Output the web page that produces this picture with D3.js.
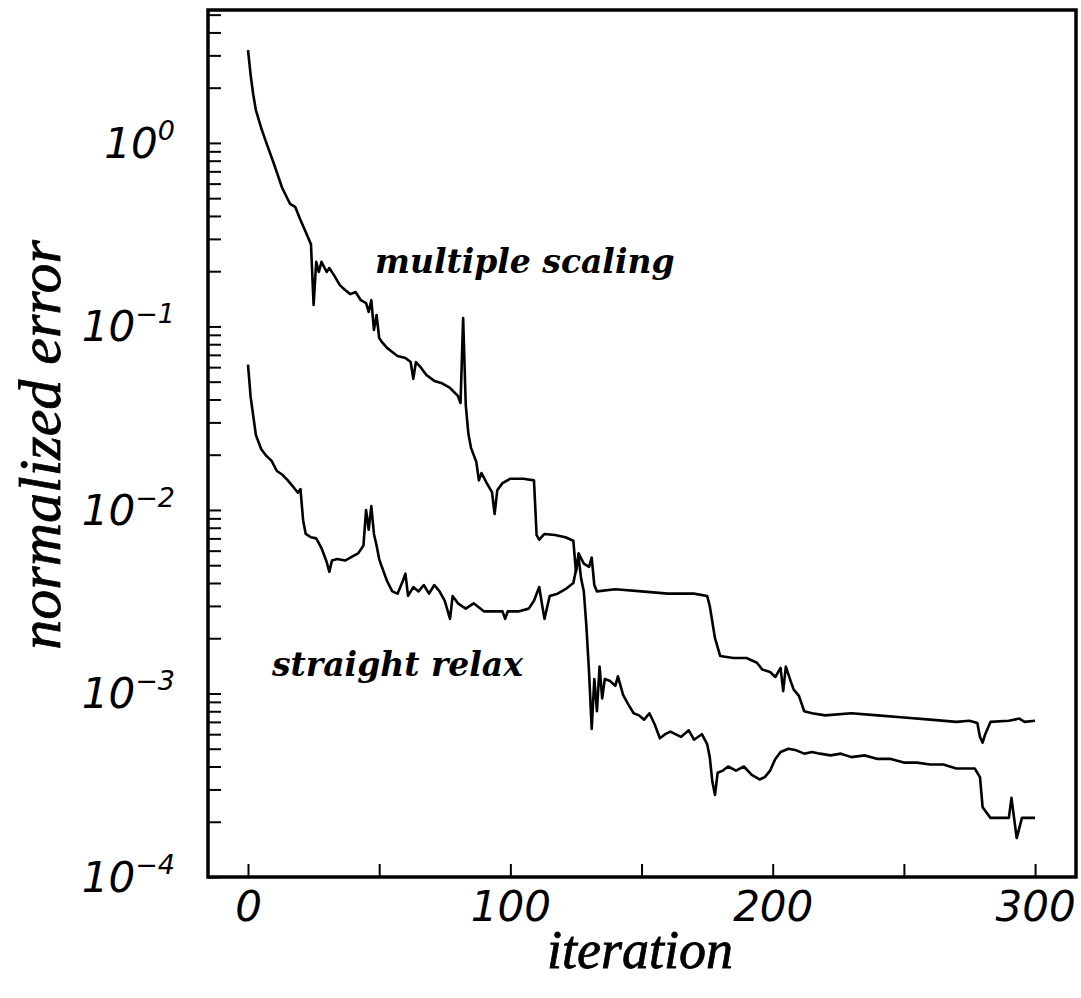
<!DOCTYPE html>
<html>
<head>
<meta charset="utf-8">
<script src="https://cdn.jsdelivr.net/npm/d3@7"></script>
<style>
  body { margin: 0; background: #fff; }
  .axis line { stroke: #000; stroke-width: 2; }
  .axis path { display: none; }
  .title { font-family: 'Liberation Serif'; font-style: italic; stroke: #000; stroke-width: 0.8; }
</style>
</head>
<body>
<div class="chart"></div>
<script>
// data
var msIter = [0,1,2,3,5,7,10,13,16,18,20,22,24,25,26,27,28,30,31,33,35,37,39,41,43,45,46,47,48,49,50,51,53,55,57,60,62,63,64,66,68,71,74,77,80,81,82,83,84,85,87,88,89,91,93,94,95,97,100,105,109,110,111,113,117,121,124,125,126,128,130,131,132,133,140,150,160,170,175,176,178,180,185,190,194,196,199,201,203,204,205,207,208,210,212,215,220,230,240,250,260,270,275,278,279,280,281,283,290,294,296,300];
var msErr  = [3.2,2.35,1.83,1.51,1.21,1.0,0.76,0.57,0.466,0.448,0.38,0.327,0.28,0.131,0.225,0.198,0.225,0.198,0.208,0.188,0.168,0.158,0.150,0.154,0.139,0.134,0.120,0.139,0.0957,0.1155,0.0865,0.0824,0.0764,0.0726,0.069,0.0673,0.064,0.0518,0.064,0.0594,0.0544,0.0505,0.049,0.0462,0.0418,0.0383,0.111,0.0373,0.026,0.0218,0.0183,0.0145,0.0159,0.014,0.0125,0.0095,0.0128,0.014,0.0148,0.0148,0.0145,0.0073,0.0069,0.0074,0.0073,0.0071,0.0068,0.0046,0.0058,0.0051,0.0049,0.0055,0.0039,0.0036,0.0037,0.0036,0.0035,0.0035,0.0034,0.0030,0.0020,0.0016,0.00156,0.00156,0.00147,0.00135,0.00131,0.00123,0.00138,0.00103,0.0014,0.00115,0.00105,0.00097,0.0008,0.00078,0.00076,0.00078,0.00076,0.00074,0.00072,0.0007,0.00071,0.00069,0.00058,0.00054,0.0006,0.0007,0.00071,0.00073,0.0007,0.00071];

var srIter = [0,1,2,3,5,7,9,11,13,15,17,19,20,21,22,24,26,28,30,31,32,34,37,40,42,44,45,46,47,48,49,50,51,53,55,57,59,60,61,63,65,67,69,71,73,75,77,78,80,83,86,90,94,97,98,99,103,107,109,111,112,113,115,118,121,124,126,127,128,129,130,131,132,133,134,135,136,138,140,141,143,145,147,149,151,153,155,157,159,161,165,168,170,173,175,176,177,178,179,181,183,186,189,192,195,197,199,201,203,206,209,212,215,218,222,226,230,235,240,245,250,255,260,265,270,274,277,279,280,283,290,291,293,295,300];
var srErr  = [0.062,0.0413,0.0325,0.0256,0.0215,0.0197,0.0185,0.0163,0.0156,0.0146,0.0135,0.0124,0.013,0.0088,0.0074,0.0071,0.0070,0.0062,0.0052,0.0046,0.0053,0.0054,0.0053,0.0056,0.0058,0.0064,0.0100,0.0078,0.0105,0.0074,0.0064,0.0054,0.0049,0.0041,0.0036,0.0035,0.0041,0.0045,0.0034,0.0038,0.0036,0.0039,0.0035,0.0039,0.0036,0.0032,0.00255,0.0034,0.0031,0.0029,0.0031,0.0028,0.0028,0.0028,0.00255,0.0028,0.0028,0.0029,0.0032,0.0038,0.0031,0.00255,0.0034,0.0035,0.0037,0.0040,0.0055,0.0042,0.0036,0.0023,0.0013,0.00064,0.0012,0.0008,0.0014,0.00094,0.0012,0.00117,0.0011,0.00124,0.00098,0.00087,0.00078,0.00076,0.00072,0.00078,0.00068,0.00057,0.0006,0.00062,0.00058,0.00063,0.00056,0.0006,0.00053,0.00045,0.00033,0.00028,0.00037,0.00038,0.0004,0.00038,0.0004,0.00036,0.00034,0.00035,0.00038,0.00044,0.00048,0.0005,0.00049,0.00047,0.00048,0.00047,0.00046,0.00047,0.00045,0.00046,0.00044,0.00044,0.00042,0.00042,0.00041,0.00041,0.00039,0.00039,0.00039,0.00035,0.00024,0.00021,0.00021,0.00027,0.000163,0.00021,0.00021];

var xTicks      = [0,50,100,150,200,250,300];
var xTickLabels = ['0','','100','','200','','300'];
var yDecades    = [-4,-3,-2,-1,0];
var yLabels     = ['10', '10', '10', '10', '10'];
var yExps       = ['\u22124','\u22123','\u22122','\u22121','0'];
var notes       = ['multiple scaling','straight relax'];

// layout (plot frame in page pixels)
var W = 1081, H = 998,
    fLeft = 208, fRight = 1076, fTop = 10, fBottom = 877;

var x = d3.scaleLinear().domain([-15.25, 315.6]).range([fLeft, fRight]);
var y = d3.scaleLog().domain([1e-4, 5.3]).range([fBottom, fTop]);

var svg = d3.select('.chart')
    .append('svg')
    .attr('width', W)
    .attr('height', H);

// minor + major ticks on the log axis
var yTickVals = [];
yDecades.forEach(function(p){
    for (var m = 1; m <= 9; m++) {
        var v = m * Math.pow(10, p);
        if (v <= 5.3) yTickVals.push(v);
    }
});

svg.append('g')
    .attr('class', 'y axis')
    .attr('transform', 'translate(' + fLeft + ',0)')
    .call(d3.axisLeft(y).tickValues(yTickVals).tickSizeInner(-13).tickSizeOuter(0).tickFormat(''));

var xAxis = svg.append('g')
    .attr('class', 'x axis')
    .attr('transform', 'translate(0,' + fBottom + ')')
    .call(d3.axisBottom(x).tickValues(xTicks).tickSizeInner(-13).tickSizeOuter(0)
        .tickFormat(function(d, i){ return xTickLabels[i]; }));

xAxis.selectAll('text')
    .attr('y', 44)
    .attr('dy', 0)
    .style('font-family', 'DejaVu Sans')
    .style('font-style', 'italic')
    .style('font-size', '42px')
    .attr('fill', '#000');

// y labels 10^k
yDecades.forEach(function(p, i){
    var t = svg.append('text')
        .attr('x', 175)
        .attr('y', y(Math.pow(10, p)) + 15)
        .attr('text-anchor', 'end')
        .style('font-family', 'DejaVu Sans')
        .style('font-style', 'italic')
        .style('font-size', '42px');
    t.append('tspan').text(yLabels[i]);
    t.append('tspan')
        .attr('dy', -18)
        .style('font-size', '27px')
        .text(yExps[i]);
});

// frame
svg.append('rect')
    .attr('x', fLeft)
    .attr('y', fTop)
    .attr('width', fRight - fLeft)
    .attr('height', fBottom - fTop)
    .attr('fill', 'none')
    .attr('stroke', '#000')
    .attr('stroke-width', 3.5);

var line = d3.line()
    .x(function(d){ return x(d[0]); })
    .y(function(d){ return y(d[1]); });

svg.append('path')
    .datum(d3.zip(msIter, msErr))
    .attr('d', line)
    .attr('fill', 'none')
    .attr('stroke', '#000')
    .attr('stroke-width', 2.6)
    .attr('stroke-linejoin', 'round');

svg.append('path')
    .datum(d3.zip(srIter, srErr))
    .attr('d', line)
    .attr('fill', 'none')
    .attr('stroke', '#000')
    .attr('stroke-width', 2.6)
    .attr('stroke-linejoin', 'round');

// curve names
svg.append('text')
    .attr('x', 375)
    .attr('y', 273)
    .style('font-family', 'DejaVu Serif')
    .style('font-style', 'italic')
    .style('font-weight', 'bold')
    .style('font-size', '33px')
    .text(notes[0]);

svg.append('text')
    .attr('x', 272)
    .attr('y', 676)
    .style('font-family', 'DejaVu Serif')
    .style('font-style', 'italic')
    .style('font-weight', 'bold')
    .style('font-size', '33px')
    .text(notes[1]);

// axis titles
svg.append('text')
    .attr('class', 'title')
    .attr('x', 640)
    .attr('y', 968)
    .attr('text-anchor', 'middle')
    .style('font-size', '54px')
    .text('iteration');

svg.append('text')
    .attr('class', 'title')
    .attr('transform', 'translate(60,445) rotate(-90)')
    .attr('text-anchor', 'middle')
    .style('font-size', '60px')
    .text('normalized error');
</script>
</body>
</html>
